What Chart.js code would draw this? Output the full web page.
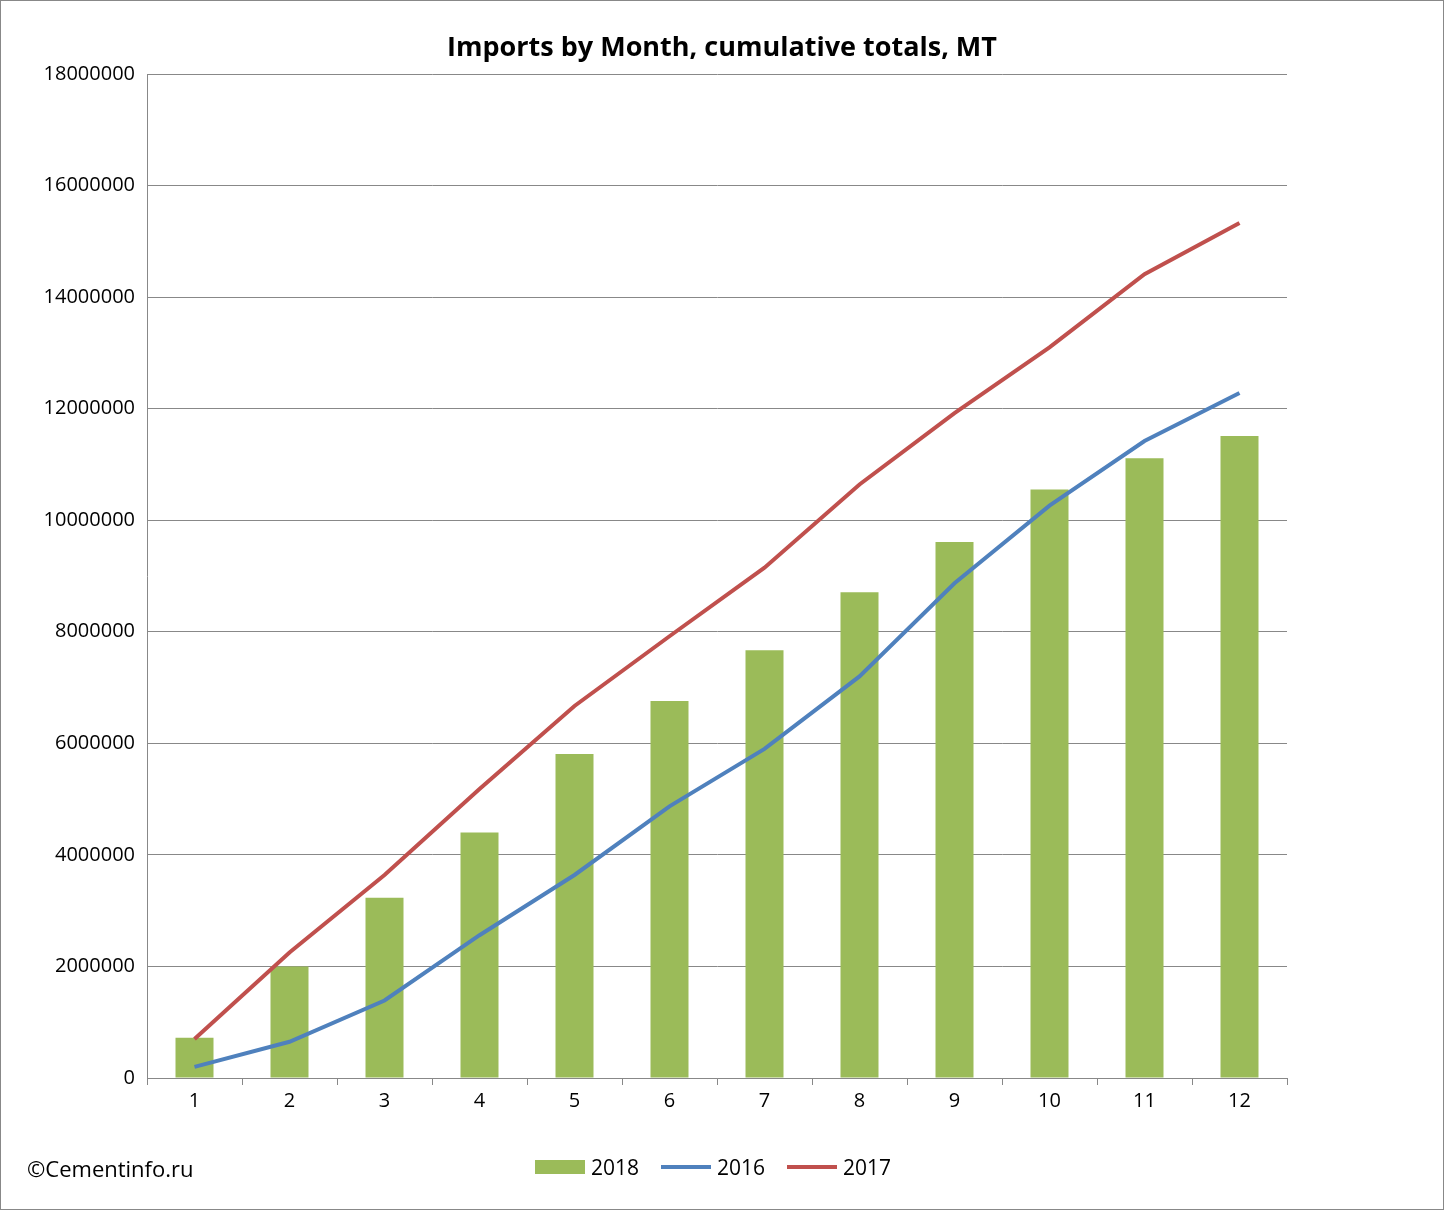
<!DOCTYPE html>
<html><head><meta charset="utf-8">
<script src="https://cdn.jsdelivr.net/npm/chart.js@4"></script>
<style>
body{margin:0;background:#fff;}
#wrap{position:relative;width:1442px;height:1208px;border:1px solid #888;}
#title{position:absolute;left:0;width:1442px;top:26px;text-align:center;font:bold 27px "Open Sans",sans-serif;color:#000;}
#note{position:absolute;left:26px;top:1152px;font:22px "Open Sans",sans-serif;color:#000;}
#legend{position:absolute;left:534px;top:1152px;font:21px "Open Sans",sans-serif;color:#000;display:flex;align-items:center;}
#legend span.k{display:inline-block;width:50px;margin-right:6px;}
#legend span.t{margin-right:22px;}
</style></head><body>
<div id="wrap"><canvas id="c" width="1442" height="1208"></canvas>
<div id="title">Imports by Month, cumulative totals, MT</div>
<div id="note">©Cementinfo.ru</div>
<div id="legend"></div></div>
<script>
const months=['1','2','3','4','5','6','7','8','9','10','11','12'];
const s2018=[720000,2000000,3230000,4400000,5810000,6760000,7670000,8710000,9610000,10550000,11110000,11510000];
const s2016=[200000,650000,1390000,2560000,3640000,4870000,5900000,7200000,8870000,10260000,11420000,12280000];
const s2017=[700000,2250000,3640000,5180000,6670000,7920000,9150000,10640000,11920000,13100000,14410000,15330000];
const F='"Open Sans",sans-serif';
const ds=[
  {type:'bar',label:'2018',data:s2018,backgroundColor:'#9bbb59',barPercentage:0.4,categoryPercentage:1,order:2},
  {type:'line',label:'2016',data:s2016,borderColor:'#4f81bd',backgroundColor:'#4f81bd',borderWidth:4,pointRadius:0,tension:0,order:1},
  {type:'line',label:'2017',data:s2017,borderColor:'#c0504d',backgroundColor:'#c0504d',borderWidth:4,pointRadius:0,tension:0,order:0}
];
document.getElementById('legend').innerHTML=ds.map(d=>d.type==='bar'
 ?`<span class="k" style="height:14px;background:${d.backgroundColor}"></span><span class="t">${d.label}</span>`
 :`<span class="k" style="height:4px;background:${d.borderColor}"></span><span class="t">${d.label}</span>`).join('');
new Chart(document.getElementById('c'),{
 data:{labels:months,datasets:ds},
 options:{responsive:false,animation:false,
  layout:{padding:{left:10,right:156,top:73,bottom:92}},
  plugins:{legend:{display:false},tooltip:{enabled:false}},
  scales:{
   x:{offset:true,grid:{display:true,drawOnChartArea:false,offset:true,color:'#888',tickLength:7},border:{color:'#888'},
      ticks:{font:{family:F,size:20},color:'#000',padding:4}},
   y:{min:0,max:18000000,afterFit(s){s.width=136;},grid:{color:'#888',tickLength:0},border:{color:'#888'},
      ticks:{stepSize:2000000,font:{family:F,size:20},color:'#000',padding:12,callback:v=>String(v)}}
  }}
});
</script></body></html>
